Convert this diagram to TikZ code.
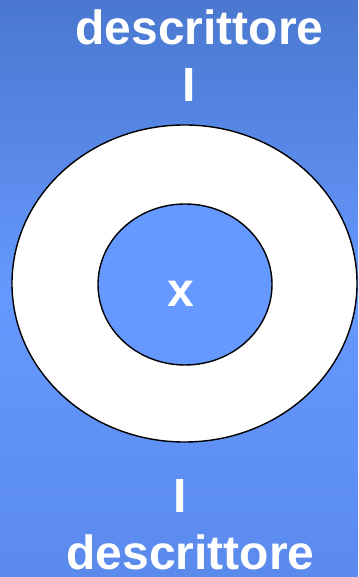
\documentclass[tikz,border=0pt]{standalone}
\usepackage{fontspec}
\setmainfont{Liberation Sans}
\usetikzlibrary{positioning, shapes.geometric}
\definecolor{bgtop}{HTML}{4A78D0}
\definecolor{bgmid}{HTML}{6699FF}
\definecolor{bgbot}{HTML}{5A8AEC}

\begin{document}
\begin{tikzpicture}[x=1pt, y=1pt, font=\fontsize{48}{50}\selectfont\bfseries,
  lbl/.style={text=white, anchor=base, inner sep=0pt},
  ring/.style={ellipse, draw=black, line width=1.4pt, inner sep=0pt}]
  \useasboundingbox (0,0) rectangle (358,577);
  \shade[top color=bgtop, bottom color=bgmid] (0,577) rectangle (358,280);
  \shade[top color=bgmid, bottom color=bgbot] (0,280.5) rectangle (358,0);

  \node[ring, fill=white, minimum width=345pt, minimum height=317pt] (outer) at (184.5,293.5) {};
  \node[ring, fill=bgmid, minimum width=174pt, minimum height=161pt] (inner) at (185,292.5) {};

  \node[lbl] (dtop) at (199.5,532) {descrittore};
  \node[lbl] (itop) at (189,475) {I};
  \node[lbl] (xval) at (180.5,270) {x};
  \node[lbl] (ibot) at (180,64) {I};
  \node[lbl] (dbot) at (190.5,8) {descrittore};
\end{tikzpicture}
\end{document}
